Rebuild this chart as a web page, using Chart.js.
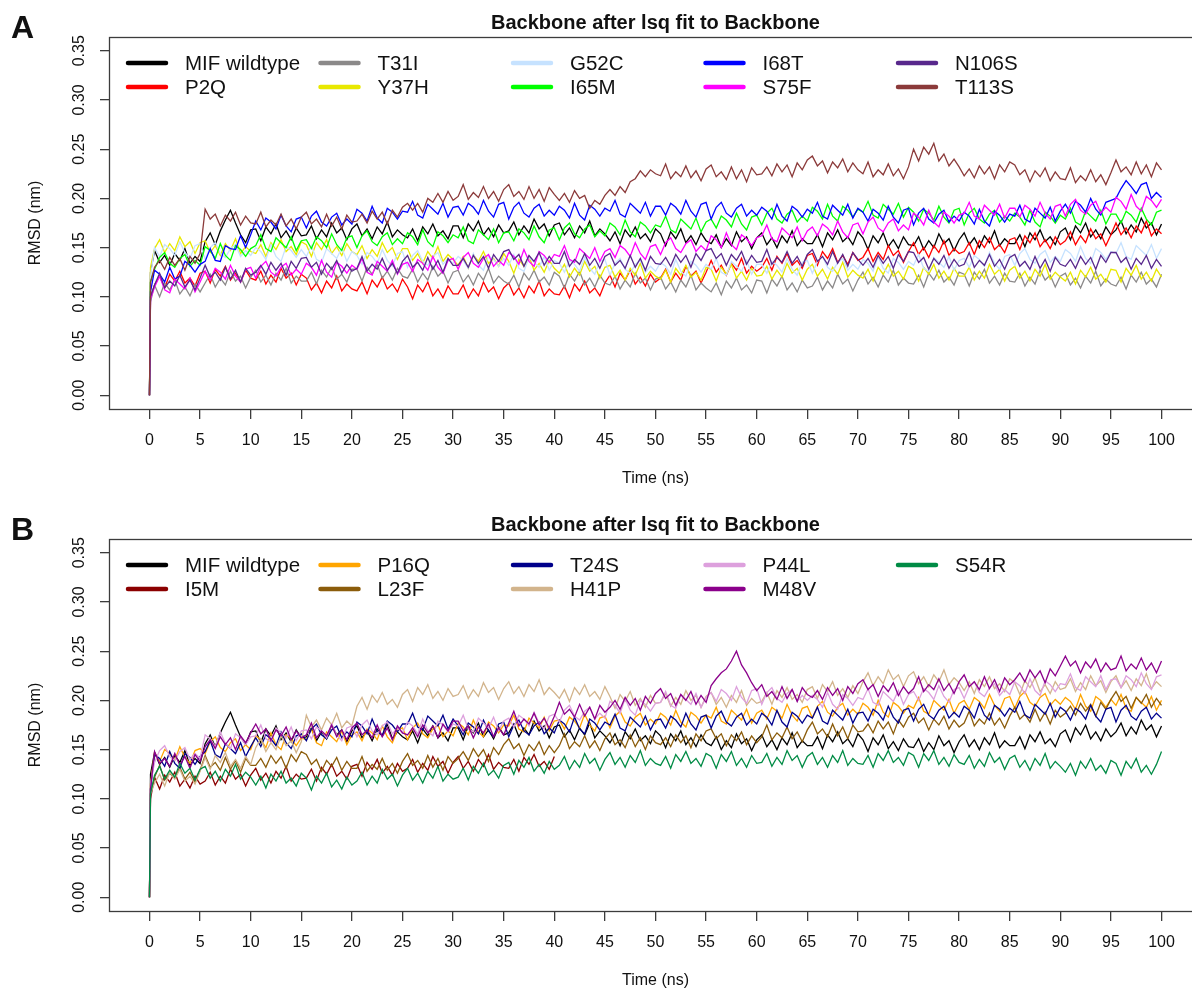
<!DOCTYPE html>
<html>
<head>
<meta charset="utf-8">
<script src="https://cdn.jsdelivr.net/npm/chart.js@4/dist/chart.umd.min.js"></script>
<style>
  html, body { margin: 0; padding: 0; background: #fff; overflow: hidden; }
  #wrap { position: relative; width: 1192px; height: 992px; overflow: hidden; }
  canvas { position: absolute; left: 0; }
  #panelA { top: 0; }
  #panelB { top: 502px; }
</style>
</head>
<body>
<div id="wrap">
  <canvas id="panelA" width="1210" height="490"></canvas>
  <canvas id="panelB" width="1210" height="490"></canvas>
</div>
<script>
// time axis in ns: frame 0, an early frame, then one sample every 0.5 ns
var times = [0, 0.1];
for (let k = 1; k <= 200; k++) times.push(k / 2);

var xTicks = [0, 5, 10, 15, 20, 25, 30, 35, 40, 45, 50, 55, 60, 65, 70, 75, 80, 85, 90, 95, 100];
var yTicks = [0, 0.05, 0.1, 0.15, 0.2, 0.25, 0.3, 0.35];

// RMSD (nm) at the times above, one row per 5 ns
var wildtype = [0, .125,
  .147,.135,.142,.132,.144,.137,.149,.134,.141,.136,
  .156,.165,.153,.167,.178,.188,.175,.163,.155,.168,
  .169,.157,.171,.164,.174,.160,.167,.158,.170,.162,
  .163,.172,.159,.168,.161,.175,.165,.170,.158,.169,
  .174,.162,.169,.159,.171,.164,.176,.161,.168,.163,
  .160,.169,.157,.171,.164,.174,.162,.167,.159,.172,
  .172,.160,.174,.167,.177,.163,.170,.161,.173,.165,
  .167,.176,.163,.172,.165,.179,.169,.174,.162,.173,
  .175,.163,.170,.160,.172,.165,.177,.162,.169,.164,
  .157,.166,.154,.168,.161,.171,.159,.164,.156,.169,
  .164,.152,.166,.159,.169,.155,.162,.153,.165,.157,
  .154,.163,.150,.159,.152,.166,.156,.161,.149,.160,
  .165,.153,.160,.150,.162,.155,.167,.152,.159,.154,
  .154,.163,.151,.165,.158,.168,.156,.161,.153,.166,
  .160,.148,.162,.155,.165,.151,.158,.149,.161,.153,
  .152,.161,.148,.157,.150,.164,.154,.159,.147,.158,
  .165,.153,.160,.150,.162,.155,.167,.152,.159,.154,
  .154,.163,.151,.165,.158,.168,.156,.161,.153,.166,
  .170,.158,.172,.165,.175,.161,.168,.159,.171,.163,
  .168,.177,.164,.173,.166,.180,.170,.175,.163,.174];

var p2q = [0, .100,
  .112,.121,.109,.123,.116,.126,.114,.119,.111,.124,
  .126,.114,.128,.121,.131,.117,.124,.115,.127,.119,
  .117,.126,.113,.122,.115,.129,.119,.124,.112,.123,
  .119,.107,.114,.104,.116,.109,.121,.106,.113,.108,
  .106,.115,.103,.117,.110,.120,.108,.113,.105,.118,
  .110,.098,.112,.105,.115,.101,.108,.099,.111,.103,
  .103,.112,.099,.108,.101,.115,.105,.110,.098,.109,
  .114,.102,.109,.099,.111,.104,.116,.101,.108,.103,
  .102,.111,.099,.113,.106,.116,.104,.109,.101,.114,
  .122,.110,.124,.117,.127,.113,.120,.111,.123,.115,
  .119,.128,.115,.124,.117,.131,.121,.126,.114,.125,
  .137,.125,.132,.122,.134,.127,.139,.124,.131,.126,
  .130,.139,.127,.141,.134,.144,.132,.137,.129,.142,
  .144,.132,.146,.139,.149,.135,.142,.133,.145,.137,
  .140,.149,.136,.145,.138,.152,.142,.147,.135,.146,
  .155,.143,.150,.140,.152,.145,.157,.142,.149,.144,
  .146,.155,.143,.157,.150,.160,.148,.153,.145,.158,
  .160,.148,.162,.155,.165,.151,.158,.149,.161,.153,
  .157,.166,.153,.162,.155,.169,.159,.164,.152,.163,
  .175,.163,.170,.160,.172,.165,.177,.162,.169,.164];

var t31i = [0, .095,
  .112,.100,.114,.107,.117,.103,.110,.101,.113,.105,
  .114,.123,.110,.119,.112,.126,.116,.121,.109,.120,
  .127,.115,.122,.112,.124,.117,.129,.114,.121,.116,
  .116,.125,.113,.127,.120,.130,.118,.123,.115,.128,
  .128,.116,.130,.123,.133,.119,.126,.117,.129,.121,
  .119,.128,.115,.124,.117,.131,.121,.126,.114,.125,
  .127,.115,.122,.112,.124,.117,.129,.114,.121,.116,
  .113,.122,.110,.124,.117,.127,.115,.120,.112,.125,
  .121,.109,.123,.116,.126,.112,.119,.110,.122,.114,
  .112,.121,.108,.117,.110,.124,.114,.119,.107,.118,
  .120,.108,.115,.105,.117,.110,.122,.107,.114,.109,
  .105,.114,.102,.116,.109,.119,.107,.112,.104,.117,
  .116,.104,.118,.111,.121,.107,.114,.105,.117,.109,
  .111,.120,.107,.116,.109,.123,.113,.118,.106,.117,
  .125,.113,.120,.110,.122,.115,.127,.112,.119,.114,
  .113,.122,.110,.124,.117,.127,.115,.120,.112,.125,
  .123,.111,.125,.118,.128,.114,.121,.112,.124,.116,
  .115,.124,.111,.120,.113,.127,.117,.122,.110,.121,
  .124,.112,.119,.109,.121,.114,.126,.111,.118,.113,
  .111,.120,.108,.122,.115,.125,.113,.118,.110,.123];

var y37h = [0, .130,
  .149,.158,.145,.154,.147,.161,.151,.156,.144,.155,
  .157,.145,.152,.142,.154,.147,.159,.144,.151,.146,
  .144,.153,.141,.155,.148,.158,.146,.151,.143,.156,
  .153,.141,.155,.148,.158,.144,.151,.142,.154,.146,
  .143,.152,.139,.148,.141,.155,.145,.150,.138,.149,
  .149,.137,.144,.134,.146,.139,.151,.136,.143,.138,
  .132,.141,.129,.143,.136,.146,.134,.139,.131,.144,
  .136,.124,.138,.131,.141,.127,.134,.125,.137,.129,
  .124,.133,.120,.129,.122,.136,.126,.131,.119,.130,
  .132,.120,.127,.117,.129,.122,.134,.119,.126,.121,
  .118,.127,.115,.129,.122,.132,.120,.125,.117,.130,
  .128,.116,.130,.123,.133,.119,.126,.117,.129,.121,
  .122,.131,.118,.127,.120,.134,.124,.129,.117,.128,
  .133,.121,.128,.118,.130,.123,.135,.120,.127,.122,
  .119,.128,.116,.130,.123,.133,.121,.126,.118,.131,
  .128,.116,.130,.123,.133,.119,.126,.117,.129,.121,
  .121,.130,.117,.126,.119,.133,.123,.128,.116,.127,
  .131,.119,.126,.116,.128,.121,.133,.118,.125,.120,
  .116,.125,.113,.127,.120,.130,.118,.123,.115,.128,
  .127,.115,.129,.122,.132,.118,.125,.116,.128,.120];

var g52c = [0, .120,
  .150,.141,.153,.149,.142,.156,.145,.139,.152,.154,
  .138,.150,.155,.144,.140,.149,.153,.141,.147,.142,
  .150,.146,.138,.153,.141,.136,.151,.147,.140,.148,
  .141,.152,.138,.135,.149,.144,.139,.150,.136,.146,
  .142,.133,.145,.141,.134,.148,.137,.131,.144,.146,
  .130,.142,.147,.136,.132,.141,.145,.133,.139,.134,
  .141,.137,.129,.144,.132,.127,.142,.138,.131,.139,
  .132,.143,.129,.126,.140,.135,.130,.141,.127,.137,
  .134,.125,.137,.133,.126,.140,.129,.123,.136,.138,
  .122,.134,.139,.128,.124,.133,.137,.125,.131,.126,
  .135,.131,.123,.138,.126,.121,.136,.132,.125,.133,
  .128,.139,.125,.122,.136,.131,.126,.137,.123,.133,
  .133,.124,.136,.132,.125,.139,.128,.122,.135,.137,
  .124,.136,.141,.130,.126,.135,.139,.127,.133,.128,
  .138,.134,.126,.141,.129,.124,.139,.135,.128,.136,
  .132,.143,.129,.126,.140,.135,.130,.141,.127,.137,
  .139,.130,.142,.138,.131,.145,.134,.128,.141,.143,
  .132,.144,.149,.138,.134,.143,.147,.135,.141,.136,
  .148,.144,.136,.151,.139,.134,.149,.145,.138,.146,
  .144,.155,.141,.138,.152,.147,.142,.153,.139,.149];

var i65m = [0, .115,
  .128,.140,.145,.134,.130,.139,.143,.131,.137,.132,
  .151,.147,.139,.154,.142,.137,.152,.148,.141,.149,
  .152,.163,.149,.146,.160,.155,.150,.161,.147,.157,
  .158,.149,.161,.157,.150,.164,.153,.147,.160,.162,
  .150,.162,.167,.156,.152,.161,.165,.153,.159,.154,
  .165,.161,.153,.168,.156,.151,.166,.162,.155,.163,
  .160,.171,.157,.154,.168,.163,.158,.169,.155,.165,
  .166,.157,.169,.165,.158,.172,.161,.155,.168,.170,
  .158,.170,.175,.164,.160,.169,.173,.161,.167,.162,
  .175,.171,.163,.178,.166,.161,.176,.172,.165,.173,
  .171,.182,.168,.165,.179,.174,.169,.180,.166,.176,
  .179,.170,.182,.178,.171,.185,.174,.168,.181,.183,
  .173,.185,.190,.179,.175,.184,.188,.176,.182,.177,
  .191,.187,.179,.194,.182,.177,.192,.188,.181,.189,
  .186,.197,.183,.180,.194,.189,.184,.195,.181,.191,
  .186,.177,.189,.185,.178,.192,.181,.175,.188,.190,
  .173,.185,.190,.179,.175,.184,.188,.176,.182,.177,
  .185,.181,.173,.188,.176,.171,.186,.182,.175,.183,
  .179,.190,.176,.173,.187,.182,.177,.188,.174,.184,
  .184,.175,.187,.183,.176,.190,.179,.173,.186,.188];

var i68t = [0, .105,
  .127,.123,.115,.130,.118,.121,.136,.132,.125,.133,
  .136,.149,.137,.136,.152,.149,.148,.162,.150,.163,
  .177,.168,.180,.176,.169,.183,.172,.166,.179,.181,
  .170,.182,.187,.176,.172,.181,.185,.173,.179,.174,
  .189,.185,.177,.192,.180,.175,.190,.186,.179,.187,
  .186,.197,.183,.180,.194,.189,.184,.195,.181,.191,
  .192,.183,.195,.191,.184,.198,.187,.181,.194,.196,
  .179,.191,.196,.185,.181,.190,.194,.182,.188,.183,
  .192,.188,.180,.195,.183,.178,.193,.189,.182,.190,
  .187,.198,.184,.181,.195,.190,.185,.196,.182,.192,
  .192,.183,.195,.191,.184,.198,.187,.181,.194,.196,
  .179,.191,.196,.185,.181,.190,.194,.182,.188,.183,
  .191,.187,.179,.194,.182,.177,.192,.188,.181,.189,
  .185,.196,.182,.179,.193,.188,.183,.194,.180,.190,
  .186,.177,.189,.185,.178,.192,.181,.175,.188,.190,
  .173,.185,.190,.179,.175,.184,.188,.176,.182,.177,
  .186,.182,.174,.189,.177,.172,.187,.183,.176,.184,
  .182,.193,.179,.176,.190,.185,.180,.191,.177,.187,
  .194,.185,.197,.193,.186,.200,.189,.183,.196,.198,
  .200,.210,.218,.212,.205,.214,.216,.200,.206,.201];

var s75f = [0, .098,
  .110,.121,.107,.104,.118,.113,.108,.119,.105,.115,
  .126,.117,.129,.125,.118,.132,.121,.115,.128,.130,
  .119,.131,.136,.125,.121,.130,.134,.122,.128,.123,
  .134,.130,.122,.137,.125,.120,.135,.131,.124,.132,
  .128,.139,.125,.122,.136,.131,.126,.137,.123,.133,
  .135,.126,.138,.134,.127,.141,.130,.124,.137,.139,
  .128,.140,.145,.134,.130,.139,.143,.131,.137,.132,
  .145,.141,.133,.148,.136,.131,.146,.142,.135,.143,
  .141,.152,.138,.135,.149,.144,.139,.150,.136,.146,
  .149,.140,.152,.148,.141,.155,.144,.138,.151,.153,
  .143,.155,.160,.149,.145,.154,.158,.146,.152,.147,
  .162,.158,.150,.165,.153,.148,.163,.159,.152,.160,
  .162,.173,.159,.156,.170,.165,.160,.171,.157,.167,
  .171,.162,.174,.170,.163,.177,.166,.160,.173,.175,
  .164,.176,.181,.170,.166,.175,.179,.167,.173,.168,
  .185,.181,.173,.188,.176,.171,.186,.182,.175,.183,
  .185,.196,.182,.179,.193,.188,.183,.194,.180,.190,
  .190,.181,.193,.189,.182,.196,.185,.179,.192,.194,
  .182,.194,.199,.188,.184,.193,.197,.185,.191,.186,
  .201,.197,.189,.204,.192,.187,.202,.198,.191,.199];

var n106s = [0, .100,
  .112,.124,.109,.116,.111,.122,.110,.117,.107,.119,
  .132,.120,.125,.117,.130,.118,.127,.115,.129,.122,
  .125,.132,.123,.135,.127,.134,.122,.136,.129,.139,
  .140,.130,.135,.123,.134,.128,.137,.124,.133,.126,
  .129,.141,.126,.133,.128,.139,.127,.134,.124,.136,
  .142,.130,.135,.127,.140,.128,.137,.125,.139,.132,
  .132,.139,.130,.142,.134,.141,.129,.143,.136,.146,
  .148,.138,.143,.131,.142,.136,.145,.132,.141,.134,
  .134,.146,.131,.138,.133,.144,.132,.139,.129,.141,
  .144,.132,.137,.129,.142,.130,.139,.127,.141,.134,
  .133,.140,.131,.143,.135,.142,.130,.144,.137,.147,
  .149,.139,.144,.132,.143,.137,.146,.133,.142,.135,
  .136,.148,.133,.140,.135,.146,.134,.141,.131,.143,
  .148,.136,.141,.133,.146,.134,.143,.131,.145,.138,
  .132,.139,.130,.142,.134,.141,.129,.143,.136,.146,
  .145,.135,.140,.128,.139,.133,.142,.129,.138,.131,
  .133,.145,.130,.137,.132,.143,.131,.138,.128,.140,
  .143,.131,.136,.128,.141,.129,.138,.126,.140,.133,
  .131,.138,.129,.141,.133,.140,.128,.142,.135,.145,
  .145,.135,.140,.128,.139,.133,.142,.129,.138,.131];

var t113s = [0, .115,
  .130,.137,.128,.140,.132,.139,.127,.141,.134,.144,
  .189,.179,.184,.172,.183,.177,.186,.173,.182,.175,
  .174,.186,.171,.178,.173,.184,.172,.179,.169,.181,
  .186,.174,.179,.171,.184,.172,.181,.169,.183,.176,
  .177,.184,.175,.187,.179,.186,.174,.188,.181,.191,
  .195,.188,.195,.186,.200,.196,.205,.196,.207,.198,
  .202,.214,.199,.206,.201,.212,.200,.207,.197,.209,
  .214,.202,.207,.199,.212,.200,.209,.197,.211,.204,
  .198,.205,.196,.208,.200,.203,.190,.198,.194,.203,
  .209,.203,.212,.206,.217,.220,.228,.222,.229,.225,
  .223,.235,.220,.227,.222,.233,.221,.228,.218,.230,
  .234,.222,.227,.219,.232,.220,.229,.217,.231,.224,
  .225,.232,.223,.235,.227,.234,.222,.236,.229,.239,
  .243,.233,.238,.226,.237,.231,.240,.227,.236,.229,
  .225,.237,.222,.229,.224,.235,.223,.230,.220,.232,
  .250,.238,.252,.245,.256,.238,.245,.233,.240,.232,
  .223,.230,.221,.233,.225,.232,.220,.234,.227,.237,
  .234,.224,.229,.217,.228,.222,.231,.218,.227,.220,
  .219,.231,.216,.223,.218,.229,.217,.224,.214,.226,
  .239,.227,.232,.224,.237,.225,.234,.222,.236,.229];

// I5M trajectory only covers the first 40 ns
var i5m = [0, .100,
  .122,.110,.124,.117,.127,.113,.120,.111,.123,.115,
  .118,.127,.114,.123,.116,.130,.120,.125,.113,.124,
  .131,.119,.126,.116,.128,.121,.133,.118,.125,.120,
  .121,.130,.118,.132,.125,.135,.123,.128,.120,.133,
  .135,.123,.137,.130,.140,.126,.133,.124,.136,.128,
  .131,.140,.127,.136,.129,.143,.133,.138,.126,.137,
  .143,.131,.138,.128,.140,.133,.145,.130,.137,.132,
  .131,.140,.128,.142,.135,.145,.133,.138,.130,.143];

var p16q = [0, .115,
  .147,.138,.150,.146,.139,.153,.142,.136,.149,.151,
  .146,.158,.163,.152,.148,.157,.161,.149,.155,.150,
  .164,.160,.152,.167,.155,.150,.165,.161,.154,.162,
  .160,.171,.157,.154,.168,.163,.158,.169,.155,.165,
  .168,.159,.171,.167,.160,.174,.163,.157,.170,.172,
  .160,.172,.177,.166,.162,.171,.175,.163,.169,.164,
  .177,.173,.165,.180,.168,.163,.178,.174,.167,.175,
  .174,.185,.171,.168,.182,.177,.172,.183,.169,.179,
  .180,.171,.183,.179,.172,.186,.175,.169,.182,.184,
  .172,.184,.189,.178,.174,.183,.187,.175,.181,.176,
  .187,.183,.175,.190,.178,.173,.188,.184,.177,.185,
  .182,.193,.179,.176,.190,.185,.180,.191,.177,.187,
  .190,.181,.193,.189,.182,.196,.185,.179,.192,.194,
  .182,.194,.199,.188,.184,.193,.197,.185,.191,.186,
  .197,.193,.185,.200,.188,.183,.198,.194,.187,.195,
  .192,.203,.189,.186,.200,.195,.190,.201,.187,.197,
  .200,.191,.203,.199,.192,.206,.195,.189,.202,.204,
  .192,.204,.209,.198,.194,.203,.207,.195,.201,.196,
  .203,.199,.191,.206,.194,.189,.204,.200,.193,.201,
  .195,.206,.192,.189,.203,.198,.193,.204,.190,.200];

var l23f = [0, .105,
  .122,.134,.119,.126,.121,.132,.120,.127,.117,.129,
  .144,.132,.137,.129,.142,.130,.139,.127,.141,.134,
  .134,.141,.132,.144,.136,.143,.131,.145,.138,.148,
  .145,.135,.140,.128,.139,.133,.142,.129,.138,.131,
  .131,.143,.128,.135,.130,.141,.129,.136,.126,.138,
  .146,.134,.139,.131,.144,.132,.141,.129,.143,.136,
  .141,.148,.139,.151,.143,.150,.138,.152,.145,.155,
  .161,.151,.156,.144,.155,.149,.158,.145,.154,.147,
  .154,.166,.151,.158,.153,.164,.152,.159,.149,.161,
  .167,.155,.160,.152,.165,.153,.162,.150,.164,.157,
  .155,.162,.153,.165,.157,.164,.152,.166,.159,.169,
  .171,.161,.166,.154,.165,.159,.168,.155,.164,.157,
  .163,.175,.160,.167,.162,.173,.161,.168,.158,.170,
  .178,.166,.171,.163,.176,.164,.173,.161,.175,.168,
  .169,.176,.167,.179,.171,.178,.166,.180,.173,.183,
  .187,.177,.182,.170,.181,.175,.184,.171,.180,.173,
  .177,.189,.174,.181,.176,.187,.175,.182,.172,.184,
  .193,.181,.186,.178,.191,.179,.188,.176,.190,.183,
  .187,.194,.185,.197,.189,.196,.184,.198,.191,.201,
  .209,.199,.204,.192,.203,.197,.206,.193,.202,.195];

var t24s = [0, .110,
  .145,.141,.133,.148,.136,.131,.146,.142,.135,.143,
  .148,.159,.145,.142,.156,.151,.146,.157,.143,.153,
  .162,.153,.165,.161,.154,.168,.157,.151,.164,.166,
  .159,.171,.176,.165,.161,.170,.174,.162,.168,.163,
  .178,.174,.166,.181,.169,.164,.179,.175,.168,.176,
  .176,.187,.173,.170,.184,.179,.174,.185,.171,.181,
  .174,.165,.177,.173,.166,.180,.169,.163,.176,.178,
  .163,.175,.180,.169,.165,.174,.178,.166,.172,.167,
  .180,.176,.168,.183,.171,.166,.181,.177,.170,.178,
  .175,.186,.172,.169,.183,.178,.173,.184,.170,.180,
  .181,.172,.184,.180,.173,.187,.176,.170,.183,.185,
  .172,.184,.189,.178,.174,.183,.187,.175,.181,.176,
  .187,.183,.175,.190,.178,.173,.188,.184,.177,.185,
  .182,.193,.179,.176,.190,.185,.180,.191,.177,.187,
  .188,.179,.191,.187,.180,.194,.183,.177,.190,.192,
  .179,.191,.196,.185,.181,.190,.194,.182,.188,.183,
  .194,.190,.182,.197,.185,.180,.195,.191,.184,.192,
  .188,.199,.185,.182,.196,.191,.186,.197,.183,.193,
  .189,.180,.192,.188,.181,.195,.184,.178,.191,.193,
  .178,.190,.195,.184,.180,.189,.193,.181,.187,.182];

var h41p = [0, .105,
  .116,.125,.113,.127,.120,.130,.118,.123,.115,.128,
  .142,.130,.144,.137,.147,.133,.140,.131,.143,.135,
  .152,.161,.148,.157,.150,.164,.154,.159,.147,.158,
  .185,.173,.180,.170,.182,.175,.187,.172,.179,.174,
  .194,.203,.191,.205,.198,.208,.196,.201,.193,.206,
  .211,.199,.213,.206,.216,.202,.209,.200,.212,.204,
  .206,.215,.202,.211,.204,.218,.208,.213,.201,.212,
  .219,.207,.214,.204,.216,.209,.221,.206,.213,.208,
  .202,.211,.199,.213,.206,.216,.204,.209,.201,.214,
  .204,.192,.206,.199,.209,.195,.202,.193,.205,.197,
  .198,.207,.194,.203,.196,.210,.200,.205,.193,.204,
  .208,.196,.203,.193,.205,.198,.210,.195,.202,.197,
  .199,.208,.196,.210,.203,.213,.201,.206,.198,.211,
  .214,.202,.216,.209,.219,.205,.212,.203,.215,.207,
  .219,.228,.215,.224,.217,.231,.221,.226,.214,.225,
  .229,.217,.224,.214,.226,.219,.231,.216,.223,.218,
  .210,.219,.207,.221,.214,.224,.212,.217,.209,.222,
  .218,.206,.220,.213,.223,.209,.216,.207,.219,.211,
  .213,.222,.209,.218,.211,.225,.215,.220,.208,.219,
  .225,.213,.220,.210,.222,.215,.227,.212,.219,.214];

var p44l = [0, .115,
  .137,.149,.154,.143,.139,.148,.152,.140,.146,.141,
  .165,.161,.153,.168,.156,.151,.166,.162,.155,.163,
  .164,.175,.161,.158,.172,.167,.162,.173,.159,.169,
  .170,.161,.173,.169,.162,.176,.165,.159,.172,.174,
  .163,.175,.180,.169,.165,.174,.178,.166,.172,.167,
  .178,.174,.166,.181,.169,.164,.179,.175,.168,.176,
  .174,.185,.171,.168,.182,.177,.172,.183,.169,.179,
  .182,.173,.185,.181,.174,.188,.177,.171,.184,.186,
  .178,.190,.195,.184,.180,.189,.193,.181,.187,.182,
  .199,.195,.187,.202,.190,.185,.200,.196,.189,.197,
  .198,.209,.195,.192,.206,.201,.196,.207,.193,.203,
  .208,.199,.211,.207,.200,.214,.203,.197,.210,.212,
  .196,.208,.213,.202,.198,.207,.211,.199,.205,.200,
  .205,.201,.193,.208,.196,.191,.206,.202,.195,.203,
  .201,.212,.198,.195,.209,.204,.199,.210,.196,.206,
  .209,.200,.212,.208,.201,.215,.204,.198,.211,.213,
  .202,.214,.219,.208,.204,.213,.217,.205,.211,.206,
  .219,.215,.207,.222,.210,.205,.220,.216,.209,.217,
  .216,.227,.213,.210,.224,.219,.214,.225,.211,.221,
  .222,.213,.225,.221,.214,.228,.217,.211,.224,.226];

var m48v = [0, .110,
  .148,.136,.141,.133,.146,.134,.143,.131,.145,.138,
  .153,.160,.151,.163,.155,.162,.150,.164,.157,.167,
  .176,.166,.171,.159,.170,.164,.173,.160,.169,.162,
  .165,.177,.162,.169,.164,.175,.163,.170,.160,.172,
  .177,.165,.170,.162,.175,.163,.172,.160,.174,.167,
  .165,.172,.163,.175,.167,.174,.162,.176,.169,.179,
  .179,.169,.174,.162,.173,.167,.176,.163,.172,.165,
  .177,.189,.174,.181,.176,.187,.175,.182,.172,.184,
  .198,.186,.191,.183,.196,.184,.193,.181,.195,.188,
  .193,.200,.191,.203,.195,.202,.190,.204,.197,.207,
  .212,.202,.207,.195,.206,.200,.209,.196,.205,.198,
  .215,.222,.228,.232,.240,.250,.236,.228,.218,.210,
  .216,.204,.209,.201,.214,.202,.211,.199,.213,.206,
  .203,.210,.201,.213,.205,.212,.200,.214,.207,.217,
  .221,.211,.216,.204,.215,.209,.218,.205,.214,.207,
  .212,.224,.209,.216,.211,.222,.210,.217,.207,.219,
  .226,.214,.219,.211,.224,.212,.221,.209,.223,.216,
  .221,.228,.219,.231,.223,.230,.218,.232,.225,.235,
  .245,.235,.240,.228,.239,.233,.242,.229,.238,.231,
  .233,.245,.230,.237,.232,.243,.231,.238,.228,.240];

var s54r = [0, .105,
  .124,.133,.120,.129,.122,.136,.126,.131,.119,.130,
  .133,.121,.128,.118,.130,.123,.135,.120,.127,.122,
  .114,.123,.111,.125,.118,.128,.116,.121,.113,.126,
  .121,.109,.123,.116,.126,.112,.119,.110,.122,.114,
  .118,.127,.114,.123,.116,.130,.120,.125,.113,.124,
  .131,.119,.126,.116,.128,.121,.133,.118,.125,.120,
  .122,.131,.119,.133,.126,.136,.124,.129,.121,.134,
  .137,.125,.139,.132,.142,.128,.135,.126,.138,.130,
  .134,.143,.130,.139,.132,.146,.136,.141,.129,.140,
  .147,.135,.142,.132,.144,.137,.149,.134,.141,.136,
  .134,.143,.131,.145,.138,.148,.136,.141,.133,.146,
  .143,.131,.145,.138,.148,.134,.141,.132,.144,.136,
  .137,.146,.133,.142,.135,.149,.139,.144,.132,.143,
  .147,.135,.142,.132,.144,.137,.149,.134,.141,.136,
  .135,.144,.132,.146,.139,.149,.137,.142,.134,.147,
  .144,.132,.146,.139,.149,.135,.142,.133,.145,.137,
  .135,.144,.131,.140,.133,.147,.137,.142,.130,.141,
  .144,.132,.139,.129,.141,.134,.146,.131,.138,.133,
  .127,.136,.124,.138,.131,.141,.129,.134,.126,.139,
  .136,.124,.138,.131,.141,.127,.134,.125,.135,.148];

// legend order (R fills columns first, two rows)
var namesA = ["MIF wildtype", "P2Q", "T31I", "Y37H", "G52C", "I65M", "I68T", "S75F", "N106S", "T113S"];
var colorsA = ["#000000", "#ff0000", "#8b8989", "#e8e800", "#c6e2ff", "#00ff00", "#0000ff", "#ff00ff", "#58288c", "#8b3a3a"];
var valuesA = [wildtype, p2q, t31i, y37h, g52c, i65m, i68t, s75f, n106s, t113s];

var namesB = ["MIF wildtype", "I5M", "P16Q", "L23F", "T24S", "H41P", "P44L", "M48V", "S54R"];
var colorsB = ["#000000", "#8b0000", "#ffa500", "#8b5c0b", "#00008b", "#d2b48c", "#dda0dd", "#8b008b", "#008b45"];
var valuesB = [wildtype, i5m, p16q, l23f, t24s, h41p, p44l, m48v, s54r];

var fontFamily = "'Liberation Sans', Arial, Helvetica, sans-serif";
var axisColor = "#3c3c3c";
var textColor = "#111111";

// R-style frame, rotated y labels, titles and the legend
var decorations = {
  id: "decorations",
  afterDraw(chart, args, opts) {
    var ctx = chart.ctx;
    var area = chart.chartArea;
    var yScale = chart.scales.y;
    ctx.save();

    ctx.strokeStyle = axisColor;
    ctx.lineWidth = 1.3;
    ctx.strokeRect(area.left + 0.5, area.top + 0.5, area.right - area.left, area.bottom - area.top);

    ctx.fillStyle = textColor;
    ctx.font = "16px " + fontFamily;
    ctx.textAlign = "center";
    ctx.textBaseline = "middle";
    yTicks.forEach(function (v) {
      ctx.save();
      ctx.translate(80, yScale.getPixelForValue(v));
      ctx.rotate(-Math.PI / 2);
      ctx.fillText(v.toFixed(2), 0, 0);
      ctx.restore();
    });

    ctx.save();
    ctx.translate(36, (area.top + area.bottom) / 2);
    ctx.rotate(-Math.PI / 2);
    ctx.fillText("RMSD (nm)", 0, 0);
    ctx.restore();

    var midX = (area.left + area.right) / 2;
    ctx.fillText("Time (ns)", midX, 479);

    ctx.font = "bold 20px " + fontFamily;
    ctx.fillText("Backbone after lsq fit to Backbone", midX, 23);

    ctx.font = "bold 32px " + fontFamily;
    ctx.textAlign = "left";
    ctx.textBaseline = "alphabetic";
    ctx.fillText(opts.letter, 11, 38);

    // legend, 5 columns x 2 rows, no box
    ctx.font = "20.5px " + fontFamily;
    ctx.textBaseline = "middle";
    ctx.lineCap = "round";
    ctx.lineWidth = 4.5;
    chart.data.datasets.forEach(function (ds, i) {
      var col = Math.floor(i / 2);
      var row = i % 2;
      var x = 128 + col * 192.5;
      var y = 63 + row * 24;
      ctx.strokeStyle = ds.borderColor;
      ctx.beginPath();
      ctx.moveTo(x, y);
      ctx.lineTo(x + 38, y);
      ctx.stroke();
      ctx.fillStyle = textColor;
      ctx.fillText(ds.label, x + 57, y + 1);
    });

    ctx.restore();
  }
};

function makePanel(canvasId, letter, names, colors, values) {
  var ctx = document.getElementById(canvasId).getContext("2d");
  var datasets = names.map(function (name, i) {
    var points = [];
    for (let k = 0; k < values[i].length; k++) {
      points.push({ x: times[k], y: values[i][k] });
    }
    return {
      label: name,
      data: points,
      borderColor: colors[i],
      backgroundColor: colors[i],
      borderWidth: 1.3,
      pointRadius: 0,
      tension: 0,
      fill: false,
      // later series are painted over earlier ones
      order: -i
    };
  });

  return new Chart(ctx, {
    type: "line",
    data: { datasets: datasets },
    options: {
      responsive: false,
      animation: false,
      events: [],
      layout: { padding: { top: 37, right: 8, bottom: 0, left: 0 } },
      scales: {
        x: {
          type: "linear",
          min: -4,
          max: 104,
          afterBuildTicks: function (scale) {
            scale.ticks = xTicks.map(function (v) { return { value: v }; });
          },
          afterFit: function (scale) { scale.height = 81; },
          border: { display: false },
          grid: { drawOnChartArea: false, drawTicks: true, tickLength: 10, color: axisColor, lineWidth: 1.3 },
          ticks: {
            color: textColor,
            padding: 12,
            maxRotation: 0,
            autoSkip: false,
            font: { family: fontFamily, size: 16 }
          }
        },
        y: {
          type: "linear",
          min: -0.014,
          max: 0.364,
          afterBuildTicks: function (scale) {
            scale.ticks = yTicks.map(function (v) { return { value: v }; });
          },
          afterFit: function (scale) { scale.width = 109; },
          border: { display: false },
          grid: { drawOnChartArea: false, drawTicks: true, tickLength: 9, color: axisColor, lineWidth: 1.3 },
          ticks: { display: false }
        }
      },
      plugins: {
        legend: { display: false },
        tooltip: { enabled: false },
        decorations: { letter: letter }
      }
    },
    plugins: [decorations]
  });
}

makePanel("panelA", "A", namesA, colorsA, valuesA);
makePanel("panelB", "B", namesB, colorsB, valuesB);
</script>
</body>
</html>
